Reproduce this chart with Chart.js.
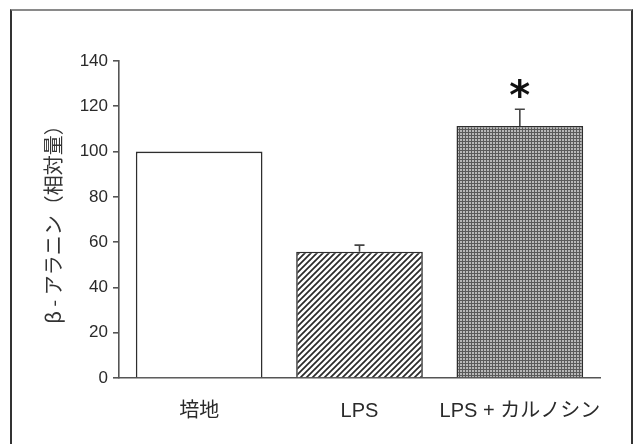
<!DOCTYPE html>
<html>
<head>
<meta charset="utf-8">
<script src="https://cdn.jsdelivr.net/npm/chart.js@4"></script>
<style>
  html, body { margin: 0; padding: 0; background: #fff; }
  #wrap { position: relative; width: 633px; height: 444px; overflow: hidden; }
  #frame {
    position: absolute; left: 10px; top: 9px; width: 619px; height: 460px;
    border-top: 2px solid #8a8a8a; border-left: 2px solid #333; border-right: 2px solid #333;
  }
  canvas { position: absolute; left: 0; top: 0; }
</style>
</head>
<body>
<div id="wrap">
  <div id="frame"></div>
  <canvas id="bar_Chart" width="633" height="444"></canvas>
</div>
<script>
// données
const categories = ['培地', 'LPS', 'LPS + カルノシン'];
const values = [100, 55.8, 111.3];
const errors = [0, 2.9, 7.4];
const marks = ['', '', '*'];
const yTitle = 'β - アラニン（相対量）';
const yMin = 0, yMax = 140, yStep = 20;

// motifs de remplissage
function makeHatch() {
  const c = document.createElement('canvas');
  c.width = 6; c.height = 6;
  const g = c.getContext('2d');
  g.fillStyle = '#fff';
  g.fillRect(0, 0, 6, 6);
  g.strokeStyle = '#2a2a2a';
  g.lineWidth = 1.7;
  g.beginPath();
  g.moveTo(-1, 7); g.lineTo(7, -1);
  g.moveTo(-4, 4); g.lineTo(4, -4);
  g.moveTo(2, 10); g.lineTo(10, 2);
  g.stroke();
  return g.createPattern(c, 'repeat');
}
function makeDots() {
  const c = document.createElement('canvas');
  c.width = 3; c.height = 3;
  const g = c.getContext('2d');
  g.fillStyle = '#5a5a5a';
  g.fillRect(0, 0, 3, 3);
  g.fillStyle = '#b8b8b8';
  g.fillRect(1, 1, 2, 2);
  return g.createPattern(c, 'repeat');
}

const ctx = document.getElementById('bar_Chart').getContext('2d');
const fills = ['#ffffff', makeHatch(), makeDots()];

// barres d'erreur + astérisque
const errorBars = {
  id: 'errorBars',
  afterDatasetsDraw(chart) {
    const c = chart.ctx;
    const yScale = chart.scales.y;
    const meta = chart.getDatasetMeta(0);
    c.save();
    meta.data.forEach((bar, i) => {
      let topY = bar.y;
      if (errors[i] > 0) {
        topY = yScale.getPixelForValue(values[i] + errors[i]);
        c.strokeStyle = '#444';
        c.lineWidth = 1.6;
        c.beginPath();
        c.moveTo(bar.x, bar.y);
        c.lineTo(bar.x, topY);
        c.moveTo(bar.x - 5, topY);
        c.lineTo(bar.x + 5, topY);
        c.stroke();
      }
      if (marks[i]) {
        c.font = 'bold 40px "DejaVu Sans"';
        c.fillStyle = '#111';
        c.textAlign = 'center';
        c.textBaseline = 'alphabetic';
        const m = c.measureText(marks[i]);
        const h = m.actualBoundingBoxAscent + m.actualBoundingBoxDescent;
        const cy = topY - 21;
        c.fillText(marks[i], bar.x, cy + h / 2 - m.actualBoundingBoxDescent);
      }
    });
    c.restore();
  }
};

var myChart = new Chart(ctx, {
  type: 'bar',
  data: {
    labels: categories,
    datasets: [{
      data: values,
      backgroundColor: fills,
      borderColor: '#2e2e2e',
      borderWidth: 1.6,
      borderSkipped: 'bottom',
      barPercentage: 0.79,
      categoryPercentage: 1.0
    }]
  },
  options: {
    responsive: false,
    animation: false,
    layout: { padding: { left: 0, top: 61, right: 33, bottom: 0 } },
    plugins: {
      legend: { display: false },
      tooltip: { enabled: false }
    },
    scales: {
      x: {
        grid: { display: false },
        border: { display: true, color: '#555', width: 1.6 },
        ticks: {
          color: '#2a2a2a',
          padding: 13,
          maxRotation: 0,
          minRotation: 0,
          autoSkip: false,
          font: { family: '"Liberation Sans", "Noto Sans CJK JP"', size: 20 }
        },
        afterFit(scale) { scale.height = 66; }
      },
      y: {
        min: yMin,
        max: yMax,
        grid: { display: true, drawOnChartArea: false, drawTicks: true, tickLength: 6, color: '#555', lineWidth: 1.6 },
        border: { display: true, color: '#555', width: 1.6 },
        ticks: {
          stepSize: yStep,
          color: '#2a2a2a',
          padding: 5,
          font: { family: '"Liberation Sans"', size: 17 }
        },
        title: {
          display: true,
          text: yTitle,
          color: '#333',
          padding: { top: 41, bottom: 0 },
          font: { family: '"Noto Sans CJK JP"', size: 20 }
        },
        afterFit(scale) { scale.width = 119; }
      }
    }
  },
  plugins: [errorBars]
});
</script>
</body>
</html>
